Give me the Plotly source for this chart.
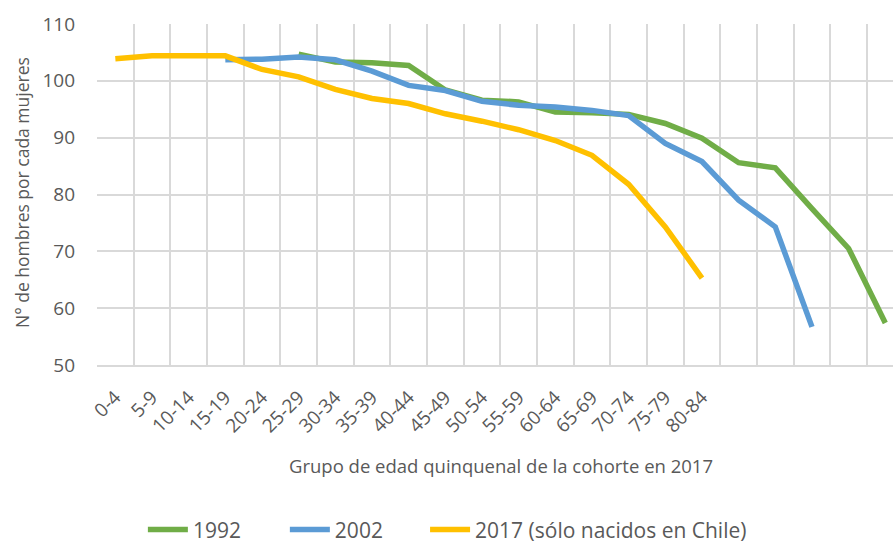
import plotly.graph_objects as go

# Age groups of the cohort in 2017 (five extra, unlabeled groups at the end)
age_groups = ["0-4", "5-9", "10-14", "15-19", "20-24", "25-29", "30-34", "35-39",
              "40-44", "45-49", "50-54", "55-59", "60-64", "65-69", "70-74",
              "75-79", "80-84", "85-89", "90-94", "95-99", "100-104", "105-109"]
tick_labels = age_groups[:17] + [""] * 5

# Men per 100 women, by census year (None = no value for that cohort)
ratio_1992 = [None, None, None, None, None, 104.7, 103.3, 103.2, 102.7, 98.4,
              96.6, 96.3, 94.5, 94.4, 94.1, 92.5, 89.9, 85.6, 84.7, 77.5, 70.5, 57.4]
ratio_2002 = [None, None, None, 103.7, 103.8, 104.2, 103.7, 101.7, 99.2, 98.3,
              96.4, 95.7, 95.4, 94.8, 93.9, 89.0, 85.8, 79.0, 74.3, 56.7, None, None]
ratio_2017 = [103.9, 104.4, 104.4, 104.4, 102.0, 100.7, 98.5, 96.9, 96.0, 94.2,
              92.9, 91.4, 89.5, 86.9, 81.8, 74.3, 65.3, None, None, None, None, None]

series = [
    ("1992", ratio_1992, "#70AD47"),
    ("2002", ratio_2002, "#5B9BD5"),
    ("2017 (sólo nacidos en Chile)", ratio_2017, "#FFC000"),
]

FONT = "Open Sans"
GREY = "#595959"
GRID = "#D9D9D9"

# one legend box per series, laid out in a row under the axis title
legend_ids = ["legend", "legend2", "legend3"]
legend_x = [0.160, 0.319, 0.476]

fig = go.Figure()
for (name, values, color), lid in zip(series, legend_ids):
    fig.add_trace(go.Scatter(
        x=age_groups, y=values, name=name, mode="lines", legend=lid,
        line=dict(color=color, width=5.5), connectgaps=False,
    ))

legend_boxes = {
    lid: dict(orientation="h", xref="container", yref="container",
              x=lx, xanchor="left", y=0.024, yanchor="middle",
              font=dict(size=21, color=GREY), itemwidth=40, bgcolor="rgba(0,0,0,0)")
    for lid, lx in zip(legend_ids, legend_x)
}

fig.update_layout(
    width=893, height=543,
    margin=dict(l=97, r=0, t=24, b=178, autoexpand=False),
    paper_bgcolor="white", plot_bgcolor="white",
    font=dict(family=FONT, color=GREY),
    showlegend=True,
    **legend_boxes,
    xaxis=dict(
        type="category", categoryorder="array", categoryarray=age_groups,
        tickmode="array", tickvals=age_groups, ticktext=tick_labels,
        tickson="boundaries", ticks="", showgrid=True, gridcolor=GRID, gridwidth=1.5,
        showline=True, linecolor=GRID, linewidth=1.5,
        tickangle=-45, tickfont=dict(size=19, color=GREY), ticklabelstandoff=12,
        range=[-0.5, 21.21], zeroline=False, automargin=False,
    ),
    yaxis=dict(
        range=[50, 110], dtick=10, tick0=50, showgrid=True, gridcolor=GRID, gridwidth=1.5,
        showline=False, zeroline=False, ticks="", ticklabelstandoff=21,
        tickfont=dict(size=19, color=GREY), automargin=False,
    ),
    annotations=[
        dict(text="Grupo de edad quinquenal de la cohorte en 2017", xref="paper", yref="paper",
             x=0.507, y=-0.296, xanchor="center", yanchor="middle", showarrow=False,
             font=dict(size=18.5, color=GREY)),
        dict(text="N° de hombres por cada mujeres", xref="paper", yref="paper",
             x=-0.094, y=0.505, xanchor="center", yanchor="middle", textangle=-90,
             showarrow=False, font=dict(size=17.5, color=GREY)),
    ],
)

fig.write_html("out.html")
